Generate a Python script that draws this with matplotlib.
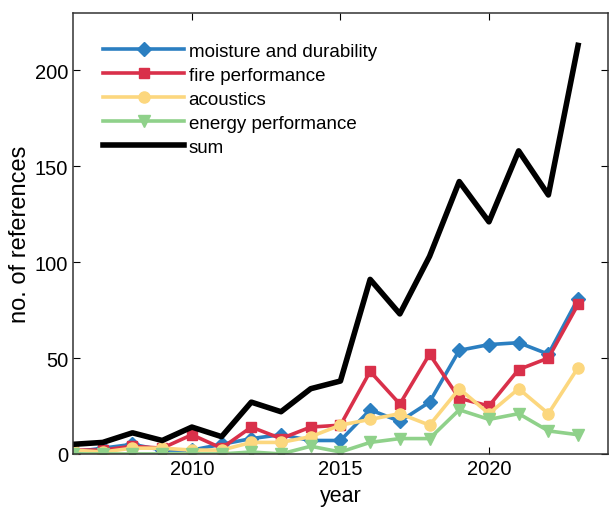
import matplotlib.pyplot as plt

plt.rcParams['font.family'] = ['Liberation Sans', 'DejaVu Sans']

# Jahre und Anzahl Referenzen pro Thema
jahre = list(range(2006, 2024))
feuchte = [1, 3, 5, 2, 2, 5, 8, 10, 7, 7, 23, 17, 27, 54, 57, 58, 52, 81]
brand = [2, 2, 4, 3, 10, 3, 14, 8, 14, 15, 43, 26, 52, 29, 25, 44, 50, 78]
akustik = [2, 1, 3, 3, 2, 2, 6, 6, 9, 15, 18, 21, 15, 34, 21, 34, 21, 45]
energie = [0, 0, 0, 0, 0, 0, 1, 0, 4, 1, 6, 8, 8, 23, 18, 21, 12, 10]
summe = [5, 6, 11, 7, 14, 9, 27, 22, 34, 38, 91, 73, 103, 142, 121, 158, 135, 213]

fig = plt.figure(figsize=(6.09, 5.10), dpi=100)
ax = fig.add_axes([0.12, 0.108, 0.878, 0.865])

ax.plot(jahre, feuchte, color='#2b7fc1', lw=2.6, marker='D', ms=7, label='moisture and durability')
ax.plot(jahre, brand, color='#d9304a', lw=2.6, marker='s', ms=7, label='fire performance')
ax.plot(jahre, akustik, color='#fcd77e', lw=2.6, marker='o', ms=8, label='acoustics')
ax.plot(jahre, energie, color='#8fd18a', lw=2.6, marker='v', ms=9, label='energy performance')
ax.plot(jahre, summe, color='black', lw=4, label='sum')

ax.set_xlim(2006, 2024)
ax.set_ylim(0, 230)
ax.set_xticks([2010, 2015, 2020])
ax.set_yticks([0, 50, 100, 150, 200])
ax.tick_params(direction='in', top=True, right=True, labelsize=14.5, length=5)
for s in ax.spines.values():
    s.set_linewidth(1.1)
    s.set_color('#333333')

ax.set_xlabel('year', fontsize=15.5, labelpad=5)
ax.set_ylabel('no. of references', fontsize=17, labelpad=3)

ax.legend(loc='upper left', bbox_to_anchor=(0.025, 0.97), frameon=False, fontsize=13.5,
          handlelength=4.3, handletextpad=0.25, labelspacing=0.36)

fig.savefig('out.png', dpi=100)
